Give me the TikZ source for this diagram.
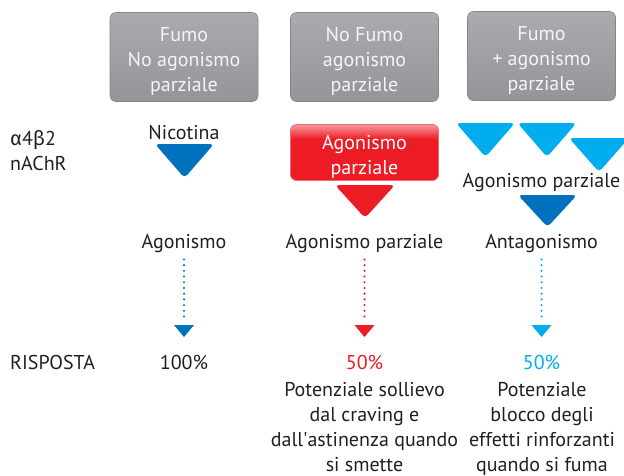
\documentclass[tikz,border=0pt]{standalone}
\usepackage{fontspec}
\setmainfont{PT Sans}
\newfontfamily\grk{Fira Sans}
\definecolor{ink}{HTML}{231F20}
\definecolor{boxgray}{HTML}{939598}
\definecolor{boxtop}{HTML}{A9ABAE}
\definecolor{rred}{HTML}{ED1C24}
\definecolor{dblue}{HTML}{0071BC}
\definecolor{lblue}{HTML}{00AEEF}
\pgfdeclareverticalshading{redtop}{100bp}{color(0bp)=(rred); color(62bp)=(rred); color(75bp)=(rred!45!white); color(100bp)=(rred!45!white)}
\newcommand{\tri}[5][4pt]{\fill[#2, rounded corners=#1] (#3) ++(-#4/2,0) -- ++(#4,0) -- ++(-#4/2,#5) -- cycle;}
\newcommand{\boxstrut}{\rule{0pt}{23.5pt}}

\begin{document}
\begin{tikzpicture}[x=1pt, y=-1pt,
    txt/.style={text=ink, font=\fontsize{20}{25}\selectfont, align=center, inner sep=0pt},
    grey/.style={txt, text=white!96!black, rectangle, rounded corners=6pt, draw=boxgray!90!black, line width=.6pt, top color=boxtop, bottom color=boxgray, minimum width=148pt, minimum height=89pt},
    redbox/.style={txt, text=white, rectangle, rounded corners=6pt, draw=rred!65!white, line width=.8pt, shade, shading=redtop, minimum width=148pt, minimum height=56pt},
    dotline/.style={line width=2.3pt, line cap=round, dash pattern=on 0pt off 5.7pt, shorten <=7pt, shorten >=5pt}]
  \useasboundingbox (0,0) rectangle (624,475);
  \node[grey] (smoke) at (184,57) {\boxstrut Fumo\\No agonismo\\parziale};
  \node[grey] (quit) at (364.5,57) {\boxstrut No Fumo\\agonismo\\parziale};
  \node[grey] (both) at (541.5,56) {\boxstrut Fumo\\+ agonismo\\parziale};

  \node[txt, anchor=north west, align=left] (rec) at (10,127.5) {\strut{\grk α}4{\grk β}2\\nAChR};
  \node[txt, anchor=base] (nic) at (184,139) {Nicotina};
  \node[redbox] (part) at (364.5,152.5) {\boxstrut Agonismo\\parziale};

  \coordinate (tn) at (184.5,144);
  \coordinate (tp) at (365,185);
  \coordinate (v1) at (485.5,123);
  \coordinate (v2) at (547,123);
  \coordinate (v3) at (599,138);
  \coordinate (ta) at (547.5,195);
  \tri{dblue}{tn}{59}{34}
  \tri{rred}{tp}{60}{33}
  \tri{lblue}{v1}{59}{34}
  \tri{lblue}{v2}{59}{34}
  \tri{lblue}{v3}{60}{34}
  \tri{dblue}{ta}{59}{32}
  \node[txt, anchor=base] (mix) at (541.5,187) {Agonismo parziale};

  \node[txt, anchor=base] (ag) at (184,248) {Agonismo};
  \node[txt, anchor=base] (agp) at (364.5,248) {Agonismo parziale};
  \node[txt, anchor=base] (ant) at (541.5,248) {Antagonismo};

  \coordinate (h1) at (184,325);
  \coordinate (h2) at (364.5,325);
  \coordinate (h3) at (541.5,325);
  \draw[dotline, dblue] (ag) -- (h1);
  \draw[dotline, rred] (agp) -- (h2);
  \draw[dotline, lblue] (ant) -- (h3);
  \tri[0pt]{dblue}{h1}{20}{12}
  \tri[0pt]{rred}{h2}{20}{12}
  \tri[0pt]{lblue}{h3}{20}{12}

  \node[txt, anchor=base west] (resp) at (10,369) {RISPOSTA};
  \node[txt, anchor=base] (full) at (184,369) {100\%};
  \node[txt, anchor=base, text=rred] (halfp) at (364.5,369) {50\%};
  \node[txt, anchor=base, text=lblue] (halfa) at (541.5,369) {50\%};
  \node[txt, anchor=north] (relief) at (364.5,379) {\strut Potenziale sollievo\\dal craving e\\dall\textquotesingle astinenza quando\\si smette};
  \node[txt, anchor=north] (block) at (542,379) {\strut Potenziale\\blocco degli\\effetti rinforzanti\\quando si fuma};
\end{tikzpicture}
\end{document}
